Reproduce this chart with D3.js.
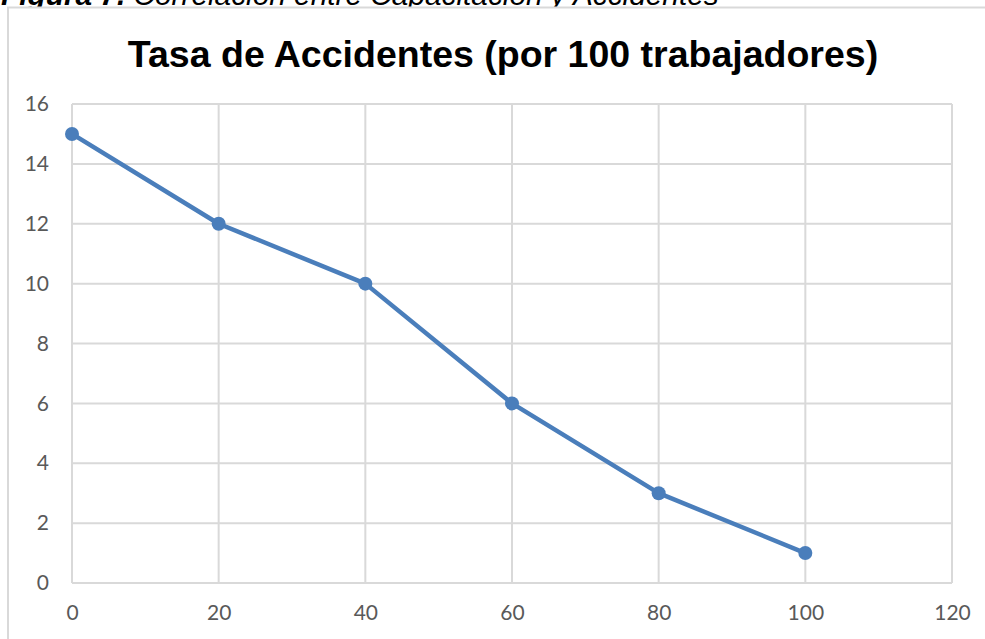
<!DOCTYPE html>
<html>
<head>
<meta charset="utf-8">
<script src="https://cdn.jsdelivr.net/npm/d3@7"></script>
<style>
  html, body { margin: 0; padding: 0; background: #fff; overflow: hidden; }
  svg { display: block; }
</style>
</head>
<body>
<svg id="chart"></svg>
<script>
// data
const capacitacion = [0, 20, 40, 60, 80, 100];
const tasaAccidentes = [15, 12, 10, 6, 3, 1];
const xTicks = [0, 20, 40, 60, 80, 100, 120];
const yTicks = [0, 2, 4, 6, 8, 10, 12, 14, 16];
const captionBold = "Figura 7.";
const captionRest = " Correlación entre Capacitación y Accidentes";
const chartTitle = "Tasa de Accidentes (por 100 trabajadores)";

const width = 985, height = 639;
const plot = { left: 72, right: 952, top: 104, bottom: 583 };

const svg = d3.select("#chart")
    .attr("width", width)
    .attr("height", height);

// caption above chart (mostly hidden behind the chart box)
const cap = svg.append("text")
    .attr("x", 1)
    .attr("y", 5)
    .attr("font-family", "Liberation Sans, Arial, sans-serif")
    .attr("font-size", 29.8)
    .attr("font-style", "italic")
    .attr("fill", "#000");
cap.append("tspan").attr("font-weight", "bold").text(captionBold);
cap.append("tspan").text(captionRest);

// chart box
svg.append("rect")
    .attr("x", 8)
    .attr("y", 7.5)
    .attr("width", width + 20)
    .attr("height", height + 20)
    .attr("fill", "#fff")
    .attr("stroke", "#d9d9d9")
    .attr("stroke-width", 2);

// title
svg.append("text")
    .attr("x", 503)
    .attr("y", 67)
    .attr("text-anchor", "middle")
    .attr("font-family", "Liberation Sans, Arial, sans-serif")
    .attr("font-weight", "bold")
    .attr("font-size", 37.5)
    .attr("fill", "#000")
    .text(chartTitle);

// scales
const x = d3.scaleLinear().domain([0, 120]).range([plot.left, plot.right]);
const y = d3.scaleLinear().domain([0, 16]).range([plot.bottom, plot.top]);

// gridlines
const grid = svg.append("g").attr("class", "grid");
grid.selectAll("line.v")
    .data(xTicks)
    .join("line")
    .attr("class", "v")
    .attr("x1", d => x(d)).attr("x2", d => x(d))
    .attr("y1", plot.top).attr("y2", plot.bottom)
    .attr("stroke", "#d9d9d9")
    .attr("stroke-width", 2);
grid.selectAll("line.h")
    .data(yTicks)
    .join("line")
    .attr("class", "h")
    .attr("x1", plot.left).attr("x2", plot.right)
    .attr("y1", d => y(d)).attr("y2", d => y(d))
    .attr("stroke", "#d9d9d9")
    .attr("stroke-width", 2);

// axes (labels only)
const xAxis = svg.append("g")
    .attr("transform", `translate(0,${plot.bottom})`)
    .call(d3.axisBottom(x).tickValues(xTicks).tickSize(0).tickPadding(22));
const yAxis = svg.append("g")
    .attr("transform", `translate(${plot.left},0)`)
    .call(d3.axisLeft(y).tickValues(yTicks).tickSize(0).tickPadding(23));
[xAxis, yAxis].forEach(a => {
    a.select(".domain").remove();
    a.selectAll("text")
        .attr("font-family", "Lato, 'Open Sans', sans-serif")
        .attr("font-size", 21)
        .attr("fill", "#595959");
});

// series
const pts = capacitacion.map((c, i) => [c, tasaAccidentes[i]]);
svg.append("path")
    .datum(pts)
    .attr("d", d3.line().x(d => x(d[0])).y(d => y(d[1])))
    .attr("fill", "none")
    .attr("stroke", "#4a7ebb")
    .attr("stroke-width", 4.5)
    .attr("stroke-linejoin", "round");
svg.selectAll("circle.pt")
    .data(pts)
    .join("circle")
    .attr("class", "pt")
    .attr("cx", d => x(d[0]))
    .attr("cy", d => y(d[1]))
    .attr("r", 7)
    .attr("fill", "#4a7ebb");
</script>
</body>
</html>
